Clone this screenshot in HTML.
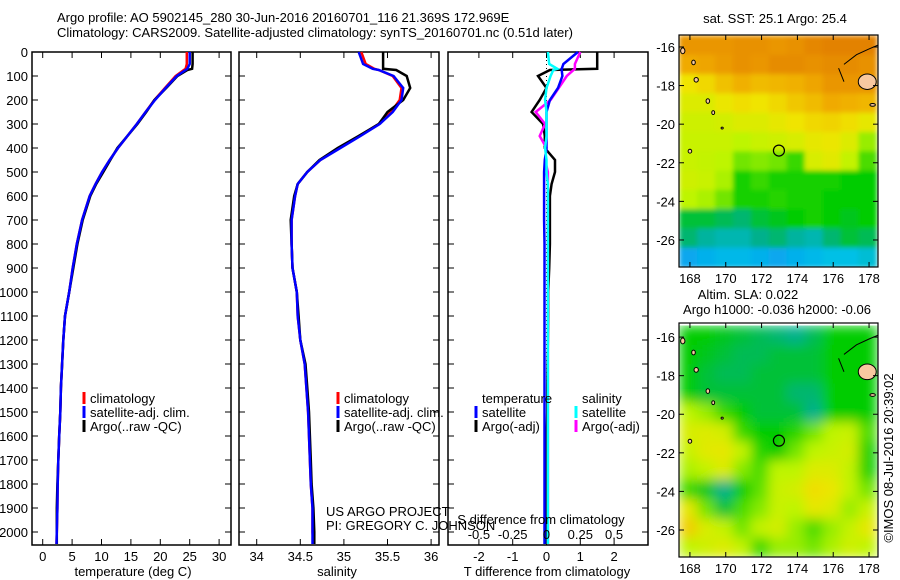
<!DOCTYPE html>
<html><head><meta charset="utf-8"><style>
body{margin:0;background:#fff;}
svg{display:block;font-family:"Liberation Sans",sans-serif;font-size:13px;}
</style></head><body>
<svg id="c" width="900" height="580" xmlns="http://www.w3.org/2000/svg">
<defs>
<clipPath id="clipA"><rect x="679" y="35" width="199" height="232"/></clipPath>
<clipPath id="clipB"><rect x="679" y="323" width="199" height="234"/></clipPath>
<filter id="blurA" x="0" y="0" width="1" height="1"><feGaussianBlur stdDeviation="2.5" edgeMode="duplicate"/></filter>
<filter id="blurB" x="0" y="0" width="1" height="1"><feGaussianBlur stdDeviation="6" edgeMode="duplicate"/></filter>
</defs>
<text x="57" y="22">Argo profile: AO 5902145_280 30-Jun-2016 20160701_116 21.369S 172.969E</text>
<text x="57" y="37">Climatology: CARS2009. Satellite-adjusted climatology: synTS_20160701.nc (0.51d later)</text>
<g id="plots"></g>
</svg>
<script>
// ---- profile data ----
const depths=[0,50,70,75,100,150,200,250,300,350,400,450,500,550,600,700,800,900,1000,1100,1200,1300,1400,1500,1600,1700,1800,1900,2000,2050];
const tempClim=[24.5,24.5,24.3,24,22.6,20.8,19.0,17.5,16.0,14.4,12.8,11.4,10.1,9.0,8.0,6.7,5.8,5.1,4.5,3.8,3.5,3.3,3.1,3.0,2.8,2.65,2.55,2.5,2.4,2.35];
const tempSat=[25.0,25.0,24.6,24.3,22.8,20.9,19.1,17.5,16.0,14.4,12.8,11.4,10.1,9.0,8.0,6.7,5.8,5.1,4.5,3.8,3.5,3.3,3.1,3.0,2.8,2.65,2.55,2.5,2.4,2.35];
const tempArgo=[25.5,25.5,25.4,24.6,22.9,21.0,19.0,17.6,16.1,14.4,12.7,11.5,10.3,9.1,8.1,6.8,5.9,5.2,4.5,3.8,3.5,3.3,3.1,3.0,2.8,2.65,2.5,2.4,2.4,2.4];
const salClim=[35.2,35.25,35.35,35.4,35.56,35.66,35.64,35.54,35.4,35.18,34.95,34.73,34.58,34.47,34.44,34.4,34.4,34.41,34.46,34.47,34.5,34.55,34.57,34.59,34.6,34.61,34.62,34.64,34.64,34.65];
const salSat=[35.17,35.22,35.33,35.4,35.57,35.68,35.66,35.56,35.41,35.19,34.96,34.73,34.58,34.47,34.44,34.4,34.4,34.41,34.46,34.47,34.5,34.55,34.57,34.59,34.6,34.61,34.62,34.64,34.64,34.64];
const salArgo=[35.45,35.45,35.45,35.6,35.72,35.76,35.68,35.5,35.4,35.17,34.93,34.72,34.58,34.47,34.43,34.39,34.4,34.41,34.46,34.48,34.5,34.56,34.58,34.6,34.61,34.62,34.63,34.65,34.66,34.66];
const dTSat=[0.93,0.5,0.45,0.45,0.47,0.34,0.1,0.0,0.0,0.0,0.0,-0.05,-0.07,-0.07,-0.07,-0.07,-0.06,-0.06,-0.06,-0.06,-0.06,-0.06,-0.06,-0.06,-0.06,-0.06,-0.06,-0.06,-0.06,-0.06];
const dTArgo=[1.5,1.5,1.5,0.1,-0.25,0.0,-0.2,-0.44,-0.1,-0.05,-0.05,0.25,0.25,0.15,0.1,0.1,0.1,0.08,0.05,0.05,0.04,0.03,0.02,0.02,0.0,0.0,-0.02,0.0,0.0,0.0];
const dSSat=[0.01,0.02,0.08,0.05,0.03,0.0,-0.01,0.0,0.0,0.0,-0.01,0.0,0.0,0.01,0.01,0.01,0.01,0.01,0.01,0.01,0.01,0.01,0.01,0.01,0.01,0.01,0.01,0.01,0.01,0.01];
const dSArgo=[0.25,0.21,0.21,0.2,0.15,0.09,0.03,-0.08,-0.01,-0.05,0.0,-0.01,0.01,0.01,0.01,0.01,0.01,0.01,0.01,0.01,0.01,0.01,0.01,0.01,0.01,0.01,0.01,0.01,0.01,0.01];
const depthTicks=[0,100,200,300,400,500,600,700,800,900,1000,1100,1200,1300,1400,1500,1600,1700,1800,1900,2000];
const tempTicks=[0,5,10,15,20,25,30];
const salTicks=[34,34.5,35,35.5,36];
const dTTicks=[-2,-1,0,1,2];
const dSTicks=[-0.5,-0.25,0,0.25,0.5];
// ---- map data (1-degree cells, rows north->south from -15.4, cols west->east from 167.4; values = colour level) ----
const sstGrid=[
[5.4,5.4,5.4,5.5,5.5,5.4,5.5,5.7,5.8,5.8,5.8],
[5.0,5.1,5.3,5.5,5.4,5.6,5.6,5.5,5.6,5.6,5.5],
[4.0,4.2,4.6,4.9,4.7,4.8,4.9,5.1,5.4,5.4,5.4],
[3.6,3.6,3.9,4.1,4.0,4.2,4.5,4.7,5.0,4.9,4.8],
[3.3,3.3,3.4,3.6,3.6,3.8,4.0,4.2,4.3,4.1,3.8],
[3.2,3.2,3.2,3.0,3.2,3.3,3.5,3.8,3.9,3.6,2.8],
[3.2,3.1,3.0,2.6,2.7,2.6,2.3,3.5,3.7,3.1,2.4],
[3.3,3.2,2.9,2.1,2.3,2.1,2.1,2.1,2.1,2.0,2.0],
[3.0,2.9,2.6,2.1,2.1,2.2,2.1,2.1,2.0,2.0,2.0],
[1.8,1.8,1.7,1.6,1.8,1.9,2.0,2.1,2.0,1.9,2.0],
[1.6,1.4,1.3,1.3,1.5,1.6,1.4,1.3,1.6,1.8,1.7],
[0.7,0.8,0.9,0.9,0.8,0.7,0.8,0.9,1.0,1.0,1.1]];
const slaGrid=[
[2,2,1.9,1.8,1.7,1.6,1.5,1.7,2,2,2],
[2,1.9,1.8,1.7,1.7,1.8,1.8,1.8,2,2,2],
[2,1.8,1.7,1.7,1.8,1.8,1.8,1.8,2,2,2],
[2,1.8,1.8,1.8,1.8,1.8,1.6,1.6,2,2,2],
[3.0,2.8,2.3,2,1.8,1.8,1.8,1.5,2,2,2],
[3.5,3.6,3.4,2.3,2,2,2.2,2.6,3.0,3.2,2.4],
[3.2,3.7,3.8,3.1,2.2,2,2.6,3.0,3.2,3.4,2.1],
[2.9,3.1,3.6,2.7,2.4,3.0,3.0,3.6,3.6,3.1,2.1],
[2.3,1.9,1.5,2,2.5,3.2,3.4,4.1,3.9,3.1,2.6],
[3.8,2.6,1.8,2.4,2.7,3.2,3.0,3.8,3.6,2.8,3.2],
[4.4,3.5,3.1,2.6,3.1,3.4,2.8,2.4,2.8,3.1,3.8],
[3.0,3.3,3.6,3.1,2.3,2.8,2.8,2.6,2.9,3.3,3.0]];
const lonTicks=[168,170,172,174,176,178];
const latTicks=[-16,-18,-20,-22,-24,-26];
const floatLon=172.969, floatLat=-21.369;

const NS="http://www.w3.org/2000/svg";
const root=document.getElementById('plots');
function mk(tag,attrs,parent){const e=document.createElementNS(NS,tag);for(const k in attrs)e.setAttribute(k,attrs[k]);(parent||root).appendChild(e);return e;}
function txt(x,y,s,anchor,parent){const t=mk('text',{x:x,y:y,'text-anchor':anchor||'start'},parent);t.textContent=s;return t;}

const yD=d=>52+0.24*d;
const xT=v=>42.7+5.88*v;
const xS=v=>256.7+87.2*(v-34);
const xDT=v=>546.5+33.8*v;
const xDS=v=>546.5+135.2*v;
const TOP=52,BOT=545;

function panel(x0,x1,name){
  const r=mk('rect',{x:x0,y:TOP,width:x1-x0,height:BOT-TOP,fill:'none',stroke:'#000','stroke-width':1.5});
  
  
  depthTicks.forEach(d=>{mk('line',{x1:x0,x2:x0+6,y1:yD(d),y2:yD(d),stroke:'#000'});mk('line',{x1:x1-6,x2:x1,y1:yD(d),y2:yD(d),stroke:'#000'});});
}
function profile(xf,vals,color,name){
  const pts=depths.map((d,i)=>xf(vals[i]).toFixed(1)+','+yD(d).toFixed(1)).join(' ');
  const p=mk('polyline',{points:pts,fill:'none',stroke:color,'stroke-width':2.5,'stroke-linejoin':'miter'});
  
  
}
const dl=mk('g',{});


depthTicks.forEach(d=>txt(28,yD(d)+5,String(d),'end',dl));

panel(32,231,'temperature-panel');
tempTicks.forEach(v=>{mk('line',{x1:xT(v),x2:xT(v),y1:TOP,y2:TOP+6,stroke:'#000'});mk('line',{x1:xT(v),x2:xT(v),y1:BOT-6,y2:BOT,stroke:'#000'});txt(xT(v),561,String(v),'middle');});
const t1=txt(133,576,'temperature (deg C)','middle');
profile(xT,tempClim,'#f00','temp-climatology-line');
profile(xT,tempArgo,'#000','temp-argo-line');
profile(xT,tempSat,'#00f','temp-satellite-line');

panel(239,439,'salinity-panel');
salTicks.forEach(v=>{mk('line',{x1:xS(v),x2:xS(v),y1:TOP,y2:TOP+6,stroke:'#000'});mk('line',{x1:xS(v),x2:xS(v),y1:BOT-6,y2:BOT,stroke:'#000'});txt(xS(v),561,String(v),'middle');});
const t2=txt(337,576,'salinity','middle');
profile(xS,salClim,'#f00','sal-climatology-line');
profile(xS,salArgo,'#000','sal-argo-line');
profile(xS,salSat,'#00f','sal-satellite-line');

panel(448,648,'difference-panel');
dTTicks.forEach(v=>{mk('line',{x1:xDT(v),x2:xDT(v),y1:TOP,y2:TOP+6,stroke:'#000'});mk('line',{x1:xDT(v),x2:xDT(v),y1:BOT-6,y2:BOT,stroke:'#000'});txt(xDT(v),561,String(v),'middle');});
mk('line',{x1:xDT(0),x2:xDT(0),y1:TOP,y2:BOT,stroke:'#000','stroke-dasharray':'1,3'});
profile(xDT,dTArgo,'#000','t-diff-argo-line');
profile(xDS,dSArgo,'#f0f','s-diff-argo-line');
profile(xDT,dTSat,'#00f','t-diff-satellite-line');
profile(xDS,dSSat,'#0ff','s-diff-satellite-line');
dSTicks.forEach(v=>txt(xDS(v),539,String(v),'middle'));
const t3=txt(541,524,'S difference from climatology','middle');
const t4=txt(547,576,'T difference from climatology','middle');
txt(326,516,'US ARGO PROJECT');txt(326,530,'PI: GREGORY C. JOHNSON');

function legend(lx,items,name){
  const g=mk('g',{});
  
  
  items.forEach((it,i)=>{const y=398+i*14;if(it[0])mk('rect',{x:lx-1.5,y:y-6,width:3,height:12,fill:it[0]},g);txt(lx+6,y+5,it[1],'start',g);});
}
legend(84,[['#f00','climatology'],['#00f','satellite-adj. clim.'],['#000','Argo(..raw -QC)']],'temperature-legend');
legend(338,[['#f00','climatology'],['#00f','satellite-adj. clim.'],['#000','Argo(..raw -QC)']],'salinity-legend');
legend(476,[[null,'temperature'],['#00f','satellite'],['#000','Argo(-adj)']],'t-diff-legend');
legend(576,[[null,'salinity'],['#0ff','satellite'],['#f0f','Argo(-adj)']],'s-diff-legend');

const cmapStops=[[0,[30,110,255]],[1,[0,192,230]],[1.5,[0,176,140]],[2,[0,204,0]],[3,[190,245,0]],[4,[240,228,0]],[5,[240,170,0]],[6,[224,120,0]]];
function cmap(v){for(let i=0;i<cmapStops.length-1;i++){const a=cmapStops[i],b=cmapStops[i+1];if(v<=b[0]){const t=Math.max(0,(v-a[0])/(b[0]-a[0]));return 'rgb('+a[1].map((c,k)=>Math.round(c+(b[1][k]-c)*t)).join(',')+')';}}const l=cmapStops[cmapStops.length-1][1];return 'rgb('+l.join(',')+')';}
function drawMap(grid,box,latTop,latBot,clip,filt,name){
  const lx=lon=>box.x+(lon-167.39)/(178.5-167.39)*box.w;
  const ly=lat=>box.y+(latTop-lat)/(latTop-latBot)*box.h;
  const outer=mk('g',{'clip-path':'url(#'+clip+')'});
  
  
  const g=mk('g',{filter:'url(#'+filt+')'},outer);
  grid.forEach((row,r)=>row.forEach((v,c)=>{
    const cell=mk('rect',{x:lx(167.4+c).toFixed(1),y:ly(-15.4-r).toFixed(1),width:(lx(168.4)-lx(167.4)+1).toFixed(1),height:(ly(-16.4)-ly(-15.4)+1).toFixed(1),fill:cmap(v)},g);
    
    
  }));
  [[177.9,-17.8,0.5,0.4],[167.6,-16.2,0.12,0.15],[168.35,-17.7,0.12,0.12],[169.0,-18.8,0.1,0.12],[169.3,-19.4,0.08,0.1],[168.0,-21.4,0.1,0.1],[169.8,-20.2,0.06,0.05],[178.2,-19.0,0.15,0.07],[168.2,-16.8,0.1,0.12]].forEach(is=>{
    mk('ellipse',{cx:lx(is[0]),cy:ly(is[1]),rx:is[2]*box.w/11.1,ry:is[3]*box.h/12,fill:'#f8c8a0',stroke:'#000','stroke-width':1},outer);
  });
  mk('path',{d:'M'+lx(176.6)+','+ly(-16.9)+' L'+lx(177.3)+','+ly(-16.4)+' L'+lx(178.0)+','+ly(-16.1)+' L'+lx(178.5)+','+ly(-15.9)+' M'+lx(176.3)+','+ly(-17.1)+' L'+lx(176.6)+','+ly(-17.8),fill:'none',stroke:'#000','stroke-width':1},outer);
  mk('rect',{x:box.x,y:box.y,width:box.w,height:box.h,fill:'none',stroke:'#000','stroke-width':1.2});
  lonTicks.forEach(v=>{mk('line',{x1:lx(v),x2:lx(v),y1:box.y,y2:box.y+5,stroke:'#000'});mk('line',{x1:lx(v),x2:lx(v),y1:box.y+box.h-5,y2:box.y+box.h,stroke:'#000'});txt(lx(v),box.y+box.h+16,String(v),'middle');});
  latTicks.forEach(v=>{mk('line',{x1:box.x,x2:box.x+5,y1:ly(v),y2:ly(v),stroke:'#000'});mk('line',{x1:box.x+box.w-5,x2:box.x+box.w,y1:ly(v),y2:ly(v),stroke:'#000'});txt(box.x-4,ly(v)+5,String(v),'end');});
  const m=mk('circle',{cx:lx(floatLon),cy:ly(floatLat),r:5.5,fill:'none',stroke:'#000','stroke-width':1.2});
  
  
}
drawMap(sstGrid,{x:679,y:35,w:199,h:232},-15.38,-27.4,'clipA','blurA','sst-map');
drawMap(slaGrid,{x:679,y:323,w:199,h:234},-15.27,-27.4,'clipB','blurB','sla-map');
const m1=txt(775,23,'sat. SST: 25.1 Argo: 25.4','middle');
const m2=txt(748,299,'Altim. SLA: 0.022','middle');
const m3=txt(777,314,'Argo h1000: -0.036 h2000: -0.06','middle');
const cr=txt(0,0,'©IMOS 08-Jul-2016 20:39:02','middle');cr.setAttribute('transform','translate(893,458) rotate(-90)');


</script>
</body></html>
